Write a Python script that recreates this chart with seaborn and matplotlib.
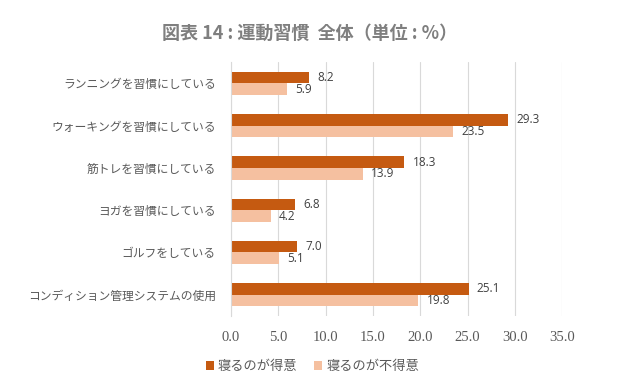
import matplotlib
matplotlib.use("Agg")
import matplotlib.pyplot as plt
import seaborn as sns
import pandas as pd

categories = ["ランニングを習慣にしている", "ウォーキングを習慣にしている", "筋トレを習慣にしている",
              "ヨガを習慣にしている", "ゴルフをしている", "コンディション管理システムの使用"]
series_names = ["寝るのが得意", "寝るのが不得意"]
good = [8.2, 29.3, 18.3, 6.8, 7.0, 25.1]
bad = [5.9, 23.5, 13.9, 4.2, 5.1, 19.8]
xticks = [0, 5, 10, 15, 20, 25, 30, 35]
title = "図表 14 : 運動習慣  全体（単位 : %）"

rows = []
for c, g, b in zip(categories, good, bad):
    rows.append({"cat": c, "series": series_names[0], "val": g})
    rows.append({"cat": c, "series": series_names[1], "val": b})
df = pd.DataFrame(rows)

sns.set_theme(style="white")
plt.rcParams['font.family'] = ['Noto Sans CJK JP', 'DejaVu Sans']

fig = plt.figure(figsize=(6.31, 3.91), dpi=100)
ax = fig.add_axes([0.366, 0.192, 0.525, 0.649])
palette = {series_names[0]: "#C55A11", series_names[1]: "#F5C0A0"}
sns.barplot(data=df, y="cat", x="val", hue="series", palette=palette, order=categories,
            hue_order=series_names, orient="h", width=0.55, ax=ax, saturation=1, legend=True,
            linewidth=0, edgecolor="none")

for cont in ax.containers:
    ax.bar_label(cont, fmt="%.1f", padding=6, fontsize=8.5, color="#404040",
                 family=['Open Sans', 'DejaVu Sans'])

ax.set_xlim(0, 35)
ax.set_xticks(xticks)
ax.set_xticklabels([f"{v:.1f}" for v in xticks], family=['Liberation Serif', 'DejaVu Serif'],
                   fontsize=10.5, color="#595959")
ax.set_xlabel("")
ax.set_ylabel("")
ax.tick_params(axis="y", labelsize=8.5, colors="#595959", length=0, pad=11)
ax.tick_params(axis="x", length=0, pad=11)
ax.grid(axis="x", color="#D9D9D9", linewidth=0.8)
ax.set_axisbelow(True)
for s in ["top", "right", "bottom"]:
    ax.spines[s].set_visible(False)
ax.spines["left"].set_color("#D9D9D9")
ax.spines["left"].set_linewidth(0.8)

handles, labels = ax.get_legend_handles_labels()
ax.legend_.remove()
fig.legend(handles, labels, loc="center", bbox_to_anchor=(0.495, 0.062), ncol=2, frameon=False,
           fontsize=9.5, labelcolor="#595959", handlelength=0.6, handleheight=0.6,
           handletextpad=0.3, columnspacing=1.3)

fig.suptitle(title, x=0.49, y=0.94, fontsize=13, fontweight="bold", color="#7F7F7F")

fig.savefig("out.png", dpi=100)
